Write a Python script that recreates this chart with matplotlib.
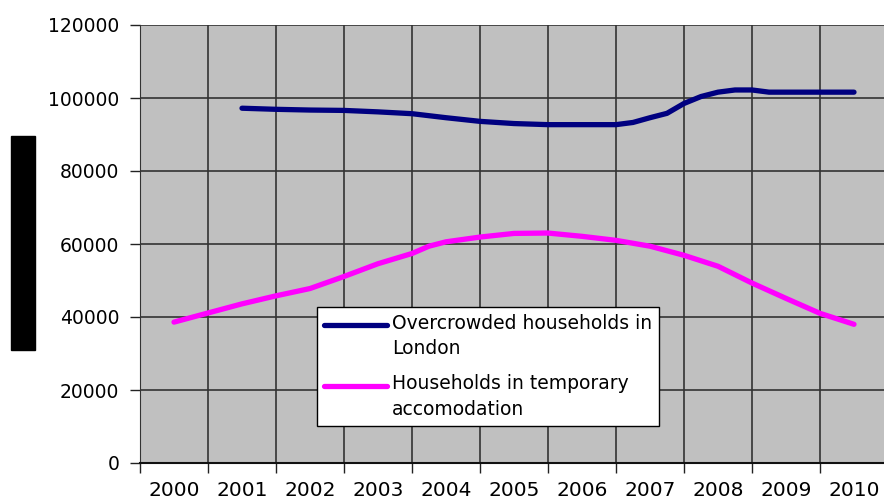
import numpy as np
import matplotlib
import matplotlib.pyplot as plt
from matplotlib.patches import Rectangle
from matplotlib.legend_handler import HandlerLine2D

matplotlib.use("Agg")
plt.rcParams["font.family"] = ["DejaVu Sans"]

# data (x in years)
overcrowded_x = [2001.0, 2001.5, 2002.0, 2002.5, 2003.0, 2003.5, 2004.0, 2004.5,
                 2005.0, 2005.5, 2006.0, 2006.5, 2006.75, 2007.0, 2007.25, 2007.5,
                 2007.75, 2008.0, 2008.25, 2008.5, 2008.75, 2009.0, 2009.5, 2010.0]
overcrowded_y = [97200, 96900, 96700, 96600, 96200, 95700, 94600, 93600,
                 93000, 92700, 92700, 92700, 93300, 94600, 95800, 98500,
                 100400, 101600, 102200, 102200, 101600, 101600, 101600, 101600]

temporary_x = [2000.0, 2000.5, 2001.0, 2001.5, 2002.0, 2002.5, 2003.0, 2003.5,
               2003.75, 2004.0, 2004.5, 2005.0, 2005.5, 2006.0, 2006.5, 2007.0,
               2007.5, 2008.0, 2008.5, 2009.0, 2009.5, 2010.0]
temporary_y = [38600, 41100, 43600, 45800, 47800, 51100, 54600, 57400,
               59400, 60600, 61900, 62900, 63000, 62100, 61000, 59400,
               56900, 53900, 49300, 45100, 41000, 38000]

years = np.arange(2000, 2011)
year_labels = [str(y) for y in years]
y_ticks = np.arange(0, 120001, 20000)


class TopLineHandler(HandlerLine2D):
    # put the legend line next to the first text line, like Excel does
    def create_artists(self, legend, orig_handle, xdescent, ydescent,
                       width, height, fontsize, trans):
        artists = super().create_artists(legend, orig_handle, xdescent, ydescent,
                                         width, height, fontsize, trans)
        for a in artists:
            a.set_ydata(np.asarray(a.get_ydata()) + 0.62 * fontsize)
        return artists


fig = plt.figure(figsize=(8.84, 5.0), dpi=100)
ax = fig.add_axes([140 / 884, 37 / 500, 748 / 884, 438 / 500])
ax.set_facecolor("#c0c0c0")

ax.plot(overcrowded_x, overcrowded_y, color="#000080", lw=3.8,
        solid_capstyle="round", solid_joinstyle="round",
        label="Overcrowded households in\nLondon", zorder=3)
ax.plot(temporary_x, temporary_y, color="#ff00ff", lw=3.8,
        solid_capstyle="round", solid_joinstyle="round",
        label="Households in temporary\naccomodation", zorder=3)

ax.set_xlim(1999.5, 2010.5)
ax.set_ylim(0, 120000)

# gridlines on the category boundaries, labels in the middle
ax.set_xticks(np.arange(1999.5, 2011, 1.0))
ax.set_xticklabels([])
ax.set_xticks(years, minor=True)
ax.set_xticklabels(year_labels, minor=True, fontsize=14.5)
ax.tick_params(axis="x", which="major", length=7, width=1, color="#222222")
ax.tick_params(axis="x", which="minor", length=0, pad=13)

ax.set_yticks(y_ticks)
ax.set_yticklabels([str(v) for v in y_ticks], fontsize=13.5)
ax.tick_params(axis="y", length=7, width=1, pad=8, color="#222222")

ax.grid(True, which="major", color="#333333", lw=1.2)
ax.set_axisbelow(True)
for side in ["top", "right"]:
    ax.spines[side].set_visible(False)
ax.spines["left"].set_color("#333333")
ax.spines["bottom"].set_color("#111111")
ax.spines["bottom"].set_linewidth(1.5)

leg = ax.legend(loc="upper left", bbox_to_anchor=(177 / 748, 156 / 438),
                borderaxespad=0, fontsize=13.5, handlelength=3.4,
                handletextpad=0.25, fancybox=False, framealpha=1,
                edgecolor="black", labelspacing=0.85, borderpad=0.35,
                handler_map={plt.Line2D: TopLineHandler()})
leg.get_frame().set_linewidth(1.0)
for t in leg.get_texts():
    t.set_linespacing(1.45)

# black box left of the y axis
fig.patches.append(Rectangle((11 / 884, 150 / 500), 24 / 884, 214 / 500,
                             transform=fig.transFigure, color="black"))

fig.savefig("out.png", dpi=100, facecolor="white")
